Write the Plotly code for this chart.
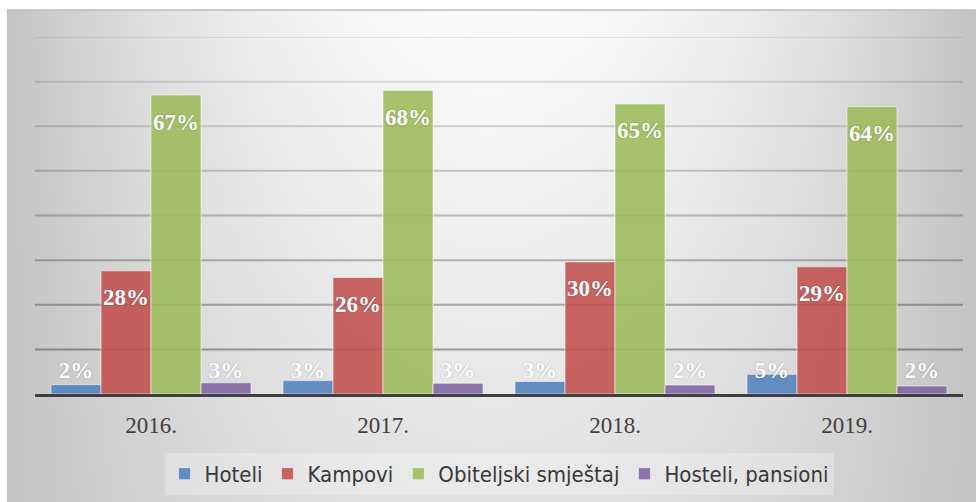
import base64, struct, zlib
import plotly.graph_objects as go

# ---------------- data ----------------
years = ["2016.", "2017.", "2018.", "2019."]
series_names = ["Hoteli", "Kampovi", "Obiteljski smještaj", "Hosteli, pansioni"]
hoteli = [2.1, 3.0, 2.8, 4.4]
kampovi = [27.6, 26.1, 29.6, 28.5]
obiteljski = [67.0, 68.0, 65.0, 64.4]
hosteli = [2.5, 2.4, 2.0, 1.8]
label_hoteli = ["2%", "3%", "3%", "5%"]
label_kampovi = ["28%", "26%", "30%", "29%"]
label_obiteljski = ["67%", "68%", "65%", "64%"]
label_hosteli = ["3%", "3%", "2%", "2%"]

values = [hoteli, kampovi, obiteljski, hosteli]
labels = [label_hoteli, label_kampovi, label_obiteljski, label_hosteli]
colors = ["rgba(79,129,189,0.88)", "rgba(192,80,77,0.88)",
          "rgba(155,187,89,0.88)", "rgba(128,100,162,0.88)"]

# ---------------- background gradient image ----------------
def gradient_png(w, h):
    rows = []
    for j in range(h):
        ypx = 10 + (j + 0.5) * 492 / h
        dy = min(1.0, (ypx - 10) / 492)
        row = bytearray([0])
        for i in range(w):
            xpx = 7 + (i + 0.5) * 969 / w
            dx = min(1.0, abs(xpx - 490) / 483)
            A = dx ** 2
            B = 0.45 * dy
            d = 1 - (1 - A) * (1 - B)
            v = int(round(251 - 56 * d))
            row.append(max(0, min(255, v)))
        rows.append(bytes(row))
    raw = b"".join(rows)

    def chunk(tag, data):
        c = struct.pack(">I", len(data)) + tag + data
        return c + struct.pack(">I", zlib.crc32(tag + data) & 0xffffffff)

    png = b"\x89PNG\r\n\x1a\n"
    png += chunk(b"IHDR", struct.pack(">IIBBBBB", w, h, 8, 0, 0, 0, 0))
    png += chunk(b"IDAT", zlib.compress(raw, 9))
    png += chunk(b"IEND", b"")
    return "data:image/png;base64," + base64.b64encode(png).decode()

bg_src = gradient_png(242, 123)

label_font = dict(family="Liberation Serif, Cambria, serif", size=23, color="white",
                  weight="bold", shadow="0px 0px 2px rgba(0,0,0,0.25)")

# ---------------- figure ----------------
fig = go.Figure()
for name, vals, col in zip(series_names, values, colors):
    fig.add_trace(go.Bar(
        x=years, y=vals, name=name, offsetgroup=name,
        marker=dict(color=col, line=dict(color="rgba(255,255,255,0.55)", width=1)),
        hoverinfo="skip",
    ))

# data labels: tall bars -> inside near the top; short bars -> just above the base
for name, vals, labs in zip(series_names, values, labels):
    inside = [v > 10 for v in vals]
    fig.add_trace(go.Scatter(
        x=years, y=[v if f else 0 for v, f in zip(vals, inside)],
        mode="markers+text", text=labs, offsetgroup=name,
        textposition=["bottom center" if f else "top center" for f in inside],
        marker=dict(size=[26 if f else 15 for f in inside], color="rgba(0,0,0,0)",
                    opacity=0, line=dict(width=0)),
        textfont=label_font, showlegend=False, hoverinfo="skip", cliponaxis=False,
    ))

# gridlines (lighter toward the top)
grid_levels = list(range(10, 81, 10))
for k, g in enumerate(grid_levels):
    a = 0.34 - 0.26 * k / (len(grid_levels) - 1)
    fig.add_shape(type="line", xref="paper", yref="y", x0=0, x1=1, y0=g, y1=g,
                  line=dict(color=f"rgba(0,0,0,{a:.3f})", width=2), layer="below")

# chart-area top border
fig.add_shape(type="line", xref="paper", yref="paper",
              x0=(7 - 35) / 928, x1=(976 - 35) / 928,
              y0=(394 - 10) / 357, y1=(394 - 10) / 357,
              line=dict(color="#bdbdbd", width=1.5), layer="below")

fig.add_layout_image(dict(
    source=bg_src, xref="paper", yref="paper",
    x=(7 - 35) / 928, y=(394 - 10) / 357,
    sizex=(976 - 7) / 928, sizey=(502 - 10) / 357,
    xanchor="left", yanchor="top", sizing="stretch", layer="below",
))

fig.update_layout(
    width=976, height=502,
    margin=dict(l=35, r=13, t=37, b=108, autoexpand=False),
    paper_bgcolor="white", plot_bgcolor="rgba(0,0,0,0)",
    barmode="group", bargap=0.138, bargroupgap=0,
    scattermode="group", scattergap=0.138,
    showlegend=True,
    legend=dict(
        orientation="h", x=0.5, xanchor="center", y=-0.165, yanchor="top",
        bgcolor="rgba(255,255,255,0.25)", borderwidth=0,
        font=dict(family="DejaVu Sans Condensed, Liberation Sans Narrow, Roboto, sans-serif",
                  size=22, color="#383838"),
        itemwidth=30, traceorder="normal",
    ),
    xaxis=dict(
        showgrid=False, showline=True, linecolor="#404040", linewidth=3,
        ticks="", tickfont=dict(family="Liberation Serif, Cambria, serif", size=23, color="#404040"),
        ticklabelstandoff=8, fixedrange=True,
    ),
    yaxis=dict(
        range=[0, 80], showgrid=False, showticklabels=False, zeroline=False,
        showline=False, fixedrange=True,
    ),
)

fig.write_html("out.html")
